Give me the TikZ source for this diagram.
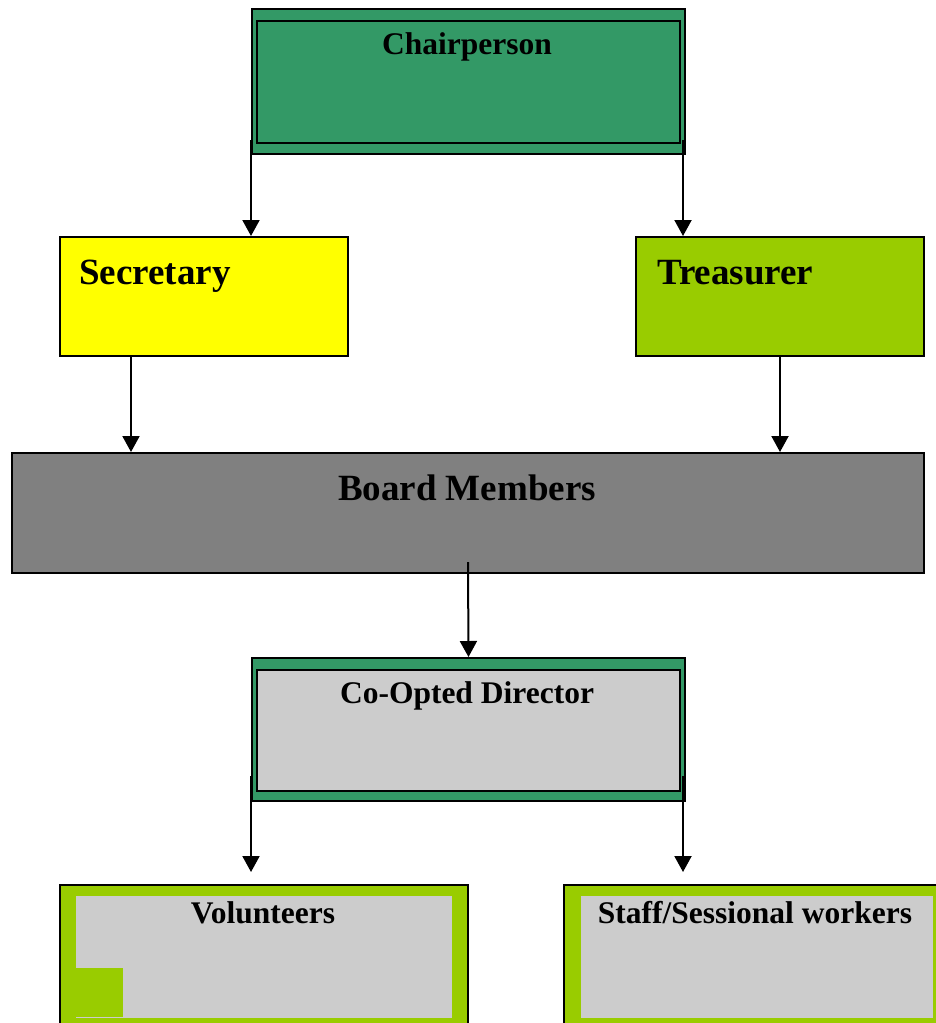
\documentclass[tikz,border=0pt]{standalone}
\usepackage{fontspec}
\setmainfont{Liberation Serif}
\usetikzlibrary{arrows.meta}
\definecolor{chairgreen}{HTML}{339966}
\definecolor{limegreen}{HTML}{99CC00}
\definecolor{boardgrey}{HTML}{808080}
\definecolor{lightgrey}{HTML}{CCCCCC}
\definecolor{secyellow}{HTML}{FFFF00}
\tikzset{
  box/.style={draw=black, line width=2pt, rectangle, anchor=north west, inner sep=0pt},
  link/.style={-{Triangle[width=17pt,length=16pt]}, line width=2pt},
  bigtext/.style={font=\fontsize{37}{40}\selectfont\bfseries, inner sep=0pt},
  midtext/.style={font=\fontsize{31.5}{34}\selectfont\bfseries, inner sep=0pt},
}
\begin{document}
\begin{tikzpicture}[x=1pt, y=-1pt]
\clip (0,0) rectangle (936,1023);
% chairperson
\node[box, fill=chairgreen, minimum width=433pt, minimum height=145pt] (chair) at (251,8) {};
\node[box, fill=chairgreen, minimum width=423pt, minimum height=122pt] (chairin) at (256,20) {};
\node[midtext, anchor=base] (chairtext) at (467,54) {Chairperson};
% secretary and treasurer
\node[box, fill=secyellow, minimum width=288pt, minimum height=119pt] (secretary) at (59,236) {};
\node[bigtext, anchor=base west] (secretarytext) at (79,284) {Secretary};
\node[box, fill=limegreen, minimum width=288pt, minimum height=119pt] (treasurer) at (635,236) {};
\node[bigtext, anchor=base west] (treasurertext) at (657,284) {Treasurer};
\coordinate (chairL) at (251,140);
\coordinate (chairR) at (683,140);
\draw[link] (chairL) -- (chairL |- secretary.north);
\draw[link] (chairR) -- (chairR |- treasurer.north);
% board
\node[box, fill=boardgrey, minimum width=912pt, minimum height=120pt] (board) at (11,452) {};
\node[bigtext, anchor=base] (boardtext) at (467,500) {Board Members};
\coordinate (secL) at (131,355);
\draw[link] (secL) -- (secL |- board.north);
\draw[link] (treasurer.south) -- (treasurer.south |- board.north);
% co-opted director
\node[box, fill=chairgreen, minimum width=433pt, minimum height=143pt] (coopt) at (251,657) {};
\node[box, fill=lightgrey, minimum width=423pt, minimum height=121pt] (cooptin) at (256,669) {};
\node[midtext, anchor=base] (coopttext) at (467,703) {Co-Opted Director};
\draw[link] ([yshift=12pt]board.south) -- (coopt.north);
% volunteers and staff
\node[box, fill=limegreen, minimum width=408pt, minimum height=150pt] (volunteers) at (59,884) {};
\node[box, draw=none, fill=lightgrey, minimum width=376pt, minimum height=122pt] (volunteersin) at (75,895) {};
\fill[limegreen] (75,968) rectangle (123,1017);
\node[midtext, anchor=base] (volunteerstext) at (263,923) {Volunteers};
\node[box, fill=limegreen, minimum width=385pt, minimum height=150pt] (staff) at (563,884) {};
\node[box, draw=none, fill=lightgrey, minimum width=352pt, minimum height=122pt] (staffin) at (580,895) {};
\node[midtext, anchor=base] (stafftext) at (755,923) {Staff/Sessional workers};
\coordinate (cooptL) at (251,776);
\coordinate (cooptR) at (683,776);
\coordinate (volTip) at (251,872);
\coordinate (staffTip) at (683,872);
\draw[link] (cooptL) -- (volTip);
\draw[link] (cooptR) -- (staffTip);
\end{tikzpicture}
\end{document}
